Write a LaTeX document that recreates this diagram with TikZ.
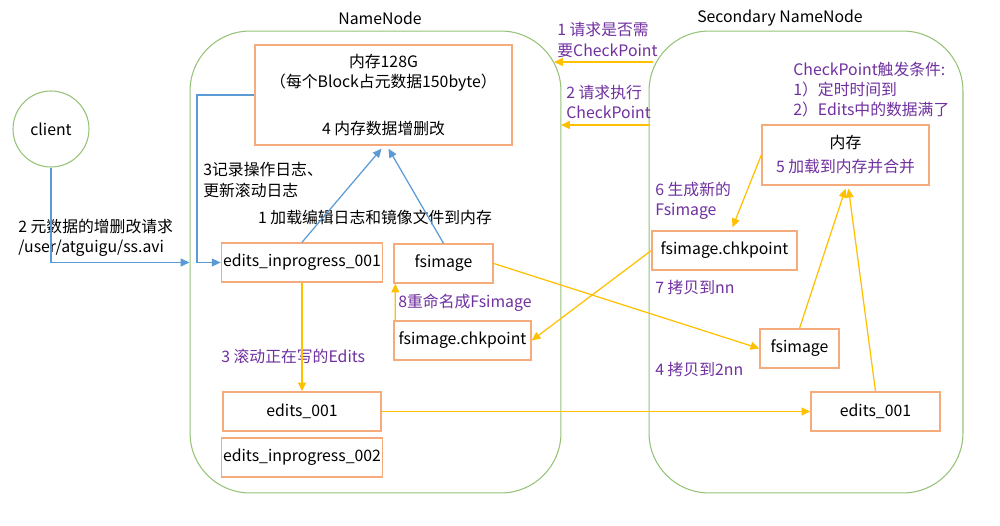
\documentclass[tikz,border=0pt]{standalone}
\usepackage{fontspec}
\setmainfont{Noto Sans CJK SC}
\usetikzlibrary{calc,arrows.meta}

\definecolor{framegreen}{RGB}{150,195,120}
\definecolor{boxorange}{RGB}{244,172,125}
\definecolor{arrowblue}{RGB}{91,155,213}
\definecolor{arrowyellow}{RGB}{255,192,0}
\definecolor{notepurple}{RGB}{112,48,160}

\begin{document}
\begin{tikzpicture}[x=0.02cm, y=-0.02cm,
  font=\fontsize{9}{11.4}\selectfont,
  frame/.style={draw=framegreen, line width=0.6pt, rounded corners=1.2cm},
  box/.style={draw=boxorange, line width=0.8pt, inner sep=1pt},
  note/.style={inner sep=0pt, align=left, anchor=west},
  purp/.style={text=notepurple},
  barr/.style={draw=arrowblue, line width=0.7pt, -{Triangle[length=5pt,width=4.5pt]}},
  yarr/.style={draw=arrowyellow, line width=0.7pt, -{Triangle[length=5pt,width=4.5pt]}}]
  \path[use as bounding box, fill=white] (0,0) rectangle (1000,526);

  % 两个容器
  \node[frame, minimum width=7.42cm, minimum height=9.24cm] (nn) at (375.5,262) {};
  \node[frame, minimum width=6.28cm, minimum height=9.24cm] (snn) at (806,262) {};
  \node (nnlabel)  at (380,18) {NameNode};
  \node (snnlabel) at (780,18) {Secondary NameNode};

  \node[circle, draw=framegreen, line width=0.6pt, minimum size=1.52cm] (client) at (51,129) {client};

  % NameNode
  \node[box, minimum width=5.14cm, minimum height=2.0cm, align=center] (mem) at (383.5,95)
    {内存128G\\（每个Block占元数据150byte）\\[14.8pt]4 内存数据增删改};
  \node[box, minimum width=3.2cm,  minimum height=0.78cm] (ei1) at (302,262.5) {edits\_inprogress\_001};
  \node[box, minimum width=1.98cm, minimum height=0.78cm] (fsi) at (443.5,263.5) {fsimage};
  \node[box, minimum width=2.74cm, minimum height=0.78cm] (fck) at (462.5,340.5) {fsimage.chkpoint};
  \node[box, minimum width=3.16cm, minimum height=0.78cm] (e1)  at (302,411.5) {edits\_001};
  \node[box, minimum width=3.16cm, minimum height=0.78cm] (ei2) at (302,457.5) {edits\_inprogress\_002};

  % Secondary NameNode
  \node[box, minimum width=3.34cm, minimum height=1.2cm, align=center] (smem) at (845.5,155)
    {内存\\[2.3pt]\textcolor{notepurple}{5 加载到内存并合并}};
  \node[box, minimum width=2.9cm,  minimum height=0.78cm] (sfck) at (724.5,250.5) {fsimage.chkpoint};
  \node[box, minimum width=1.58cm, minimum height=0.78cm] (sfsi) at (799.5,348.5) {fsimage};
  \node[box, minimum width=2.58cm, minimum height=0.78cm] (se1)  at (875.5,411.5) {edits\_001};

  % 文字说明
  \node[note] (req2)  at (18,238)  {2 元数据的增删改请求\\/user/atguigu/ss.avi};
  \node[note] (log3)  at (203,180) {3记录操作日志、\\更新滚动日志};
  \node       (load1) at (375,217) {1 加载编辑日志和镜像文件到内存};
  \node[note, purp] (ren8)  at (398,303) {8重命名成Fsimage};
  \node[note, purp] (roll3) at (221,356) {3 滚动正在写的Edits};
  \node[note, purp] (ask1)  at (557,40)  {1 请求是否需\\要CheckPoint};
  \node[note, purp] (do2)   at (566,102) {2 请求执行\\CheckPoint};
  \node[note, purp] (cond)  at (793,90)  {CheckPoint触发条件:\\1）定时时间到\\2）Edits中的数据满了};
  \node[note, purp] (gen6)  at (655,201) {6 生成新的\\Fsimage};
  \node[note, purp] (cp7)   at (655,287) {7 拷贝到nn};
  \node[note, purp] (cp4)   at (655,369) {4 拷贝到2nn};

  \coordinate (lb)  at (197,262.5);
  \coordinate (q1s) at (653,62);
  \coordinate (q1e) at (554,62);
  \coordinate (q2s) at (650,125);
  \coordinate (q2e) at (561,125);

  % 蓝色箭头
  \draw[barr] (client.south) |- (ei1.west -| nn.west);
  \draw[barr] (mem.west) -| (lb) -- (ei1.west);
  \draw[barr] (ei1.north) -- ($(mem.south)+(-2,3)$);
  \draw[barr] (fsi.north) -- ($(mem.south)+(5,3)$);

  % 黄色箭头
  \draw[yarr] (q1s) -- (q1e);
  \draw[yarr] (q2s) -- (q2e);
  \draw[yarr] (ei1.south) -- (e1.north);
  \draw[yarr] ($(fck.north west)+(2,0)$) -- ($(fsi.south west)+(2,0)$);
  \draw[yarr] (e1.east) -- (se1.west);
  \draw[yarr] (fsi.east) -- (sfsi.west);
  \draw[yarr] (sfck.west) -- (fck.east);
  \draw[yarr] (smem.west) -- ($(sfck.north)+(8,-3)$);
  \draw[yarr] (sfsi.north) -- ($(smem.south)+(0,3)$);
  \draw[yarr] (se1.north) -- ($(smem.south)+(3,3)$);
\end{tikzpicture}
\end{document}
